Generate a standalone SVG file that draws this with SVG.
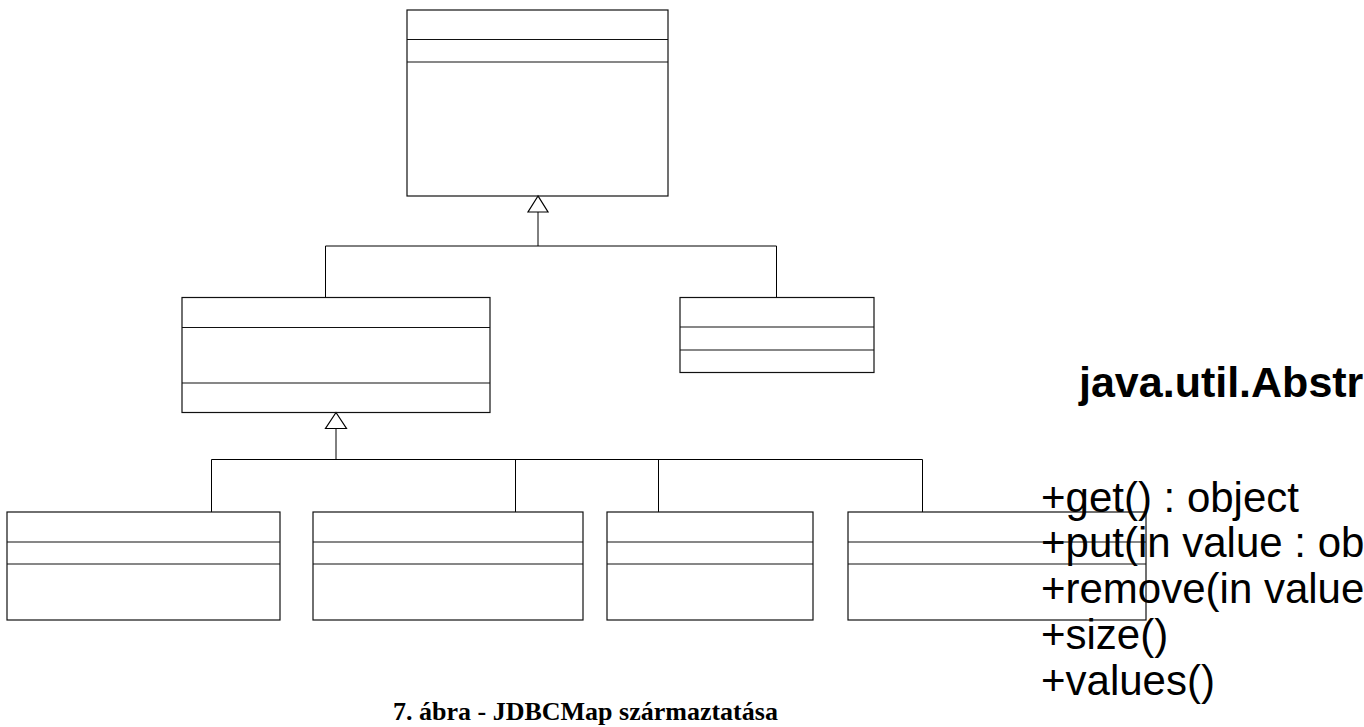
<svg xmlns="http://www.w3.org/2000/svg" width="1364" height="727" viewBox="0 0 1364 727">
<style>
.box{fill:none;stroke:#111;stroke-width:1.2}
.div{stroke:#111;stroke-width:1.2}
.con{fill:none;stroke:#000;stroke-width:1}
.tri{fill:#fff;stroke:#000;stroke-width:1.2}
.mem{font-family:"Liberation Sans",Arial,sans-serif;font-size:42px;fill:#000}
.ttl{font-family:"Liberation Sans",Arial,sans-serif;font-size:43px;font-weight:bold;fill:#000}
.cap{font-family:"Liberation Serif","Times New Roman",serif;font-size:26px;font-weight:bold;fill:#000}
</style>
<rect width="1364" height="727" fill="#fff"/>
<g id="connectors">
  <polyline class="con" points="538,212 538,246"/>
  <polyline class="con" points="325.5,297 325.5,246 776.5,246 776.5,297"/>
  <polyline class="con" points="336,428 336,459"/>
  <polyline class="con" points="211.5,512 211.5,459.5 922.5,459.5 922.5,512"/>
  <line class="con" x1="515.5" y1="459.5" x2="515.5" y2="512"/>
  <line class="con" x1="658.5" y1="459.5" x2="658.5" y2="512"/>
  <polygon class="tri" points="538,196 528,212 548,212"/>
  <polygon class="tri" points="336,412.5 325.5,428.5 346.5,428.5"/>
</g>
<g id="node-top">
  <rect class="box" x="407" y="10" width="261" height="186"/>
  <line class="div" x1="407" y1="39.5" x2="668" y2="39.5"/>
  <line class="div" x1="407" y1="62" x2="668" y2="62"/>
</g>
<g id="node-mid-left">
  <rect class="box" x="182" y="297.5" width="308" height="115"/>
  <line class="div" x1="182" y1="327.5" x2="490" y2="327.5"/>
  <line class="div" x1="182" y1="383" x2="490" y2="383"/>
</g>
<g id="node-mid-right">
  <rect class="box" x="680" y="297.5" width="194" height="75"/>
  <line class="div" x1="680" y1="327" x2="874" y2="327"/>
  <line class="div" x1="680" y1="350" x2="874" y2="350"/>
</g>
<g id="node-b1">
  <rect class="box" x="7" y="512" width="273" height="108"/>
  <line class="div" x1="7" y1="542" x2="280" y2="542"/>
  <line class="div" x1="7" y1="564" x2="280" y2="564"/>
</g>
<g id="node-b2">
  <rect class="box" x="313" y="512" width="270" height="108"/>
  <line class="div" x1="313" y1="542" x2="583" y2="542"/>
  <line class="div" x1="313" y1="564" x2="583" y2="564"/>
</g>
<g id="node-b3">
  <rect class="box" x="607" y="512" width="206" height="108"/>
  <line class="div" x1="607" y1="542" x2="813" y2="542"/>
  <line class="div" x1="607" y1="564" x2="813" y2="564"/>
</g>
<g id="node-b4">
  <rect class="box" x="848" y="512" width="298" height="108"/>
  <line class="div" x1="848" y1="542" x2="1146" y2="542"/>
  <line class="div" x1="848" y1="564" x2="1146" y2="564"/>
</g>
<g id="abstractmap-text">
  <text class="ttl" x="1079" y="397">java.util.Abstr</text>
  <text class="mem" x="1041" y="511.5">+get() : object</text>
  <text class="mem" x="1041" y="557">+put(in value : ob</text>
  <text class="mem" x="1041" y="603">+remove(in value</text>
  <text class="mem" x="1041" y="649">+size()</text>
  <text class="mem" x="1041" y="695">+values()</text>
</g>
<text class="cap" x="393" y="720">7. ábra - JDBCMap származtatása</text>
</svg>
